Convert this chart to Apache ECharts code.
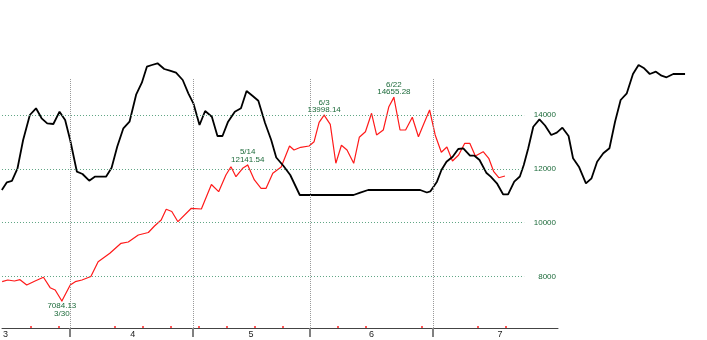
<!DOCTYPE html>
<html><head><meta charset="utf-8">
<script src="https://cdn.jsdelivr.net/npm/echarts@6/dist/echarts.min.js"></script>
<style>html,body{margin:0;padding:0;background:#fff}#c{width:707px;height:340px}</style>
</head><body><div id="c"></div>
<script>
// x unit: weekday index (Apr 1 = 0)
const monthLabels = ['3', '4', '5', '6', '7'];
const monthLabelPos = [-12.1, 10.7, 31.9, 53.5, 76.5];
const monthBoundaries = [-0.5, 21.5, 42.5, 64.5];
const mondayTicks = [-7.5, -2.5, 7.5, 12.5, 17.5, 22.5, 27.5, 32.5, 37.5, 47.5, 52.5, 62.5, 72.5, 77.5];
const yTickValues = [8000, 10000, 12000, 14000];

const redX = [-12.7, -11.7, -10.5, -9.5, -8.3, -6.8, -5.3, -4.1, -3.2, -2.0, -0.5, 0.4, 1.6, 3.2, 4.5, 6.6, 8.6, 9.9, 11.7, 13.5, 14.6, 15.8, 16.7, 17.7, 18.8, 21.2, 23.0, 24.8, 26.1, 27.4, 28.3, 29.2, 30.4, 31.3, 32.5, 33.7, 34.6, 35.8, 37.3, 38.8, 39.6, 40.8, 42.3, 43.2, 44.1, 45.0, 46.1, 47.1, 48.1, 49.1, 50.3, 51.3, 52.4, 53.5, 54.4, 55.6, 56.6, 57.5, 58.6, 59.6, 60.8, 61.9, 62.9, 63.9, 64.9, 66.0, 67.0, 68.0, 69.1, 70.2, 71.1, 72.1, 73.5, 74.5, 75.4, 76.3, 77.4];
const redY = [7804, 7867, 7830, 7878, 7681, 7830, 7967, 7581, 7495, 7084.13, 7681, 7804, 7867, 7997, 8547, 8859, 9231, 9279, 9540, 9633, 9874, 10097, 10495, 10413, 10034, 10532, 10506, 11417, 11149, 11770, 12078, 11707, 12019, 12141.54, 11584, 11275, 11275, 11833, 12067, 12848, 12699, 12799, 12848, 13008, 13729, 13998.14, 13654, 12205, 12874, 12699, 12205, 13171, 13379, 14063, 13257, 13442, 14309, 14655.28, 13442, 13442, 13915, 13193, 13691, 14186, 13257, 12614, 12811, 12290, 12513, 12948, 12948, 12476, 12636, 12391, 11892, 11669, 11733];

const blackX = [-12.4, -11.5, -10.6, -9.6, -8.6, -7.4, -6.3, -5.3, -4.3, -3.2, -2.1, -1.1, -0.2, 1.0, 2.0, 3.2, 4.2, 6.2, 7.2, 8.2, 9.3, 10.4, 11.6, 12.6, 13.5, 14.4, 15.4, 16.6, 17.6, 18.7, 19.9, 20.9, 21.8, 22.9, 23.9, 25.1, 26.1, 27.0, 28.0, 29.2, 30.3, 31.3, 32.4, 33.4, 34.6, 35.7, 36.6, 37.9, 39.1, 40.8, 50.4, 51.6, 53.0, 62.3, 63.5, 64.1, 65.3, 66.1, 67.0, 68.1, 69.1, 70.0, 71.2, 72.0, 72.9, 74.1, 74.9, 76.0, 77.1, 78.0, 79.1, 80.1, 80.8, 81.6, 82.5, 83.6, 84.6, 85.7, 86.7, 87.7, 88.8, 89.6, 90.7, 91.9, 92.9, 93.9, 95.0, 96.1, 97.1, 98.1, 99.2, 100.3, 101.3, 102.3, 103.3, 104.4, 105.4, 106.3, 107.5, 109.6];
const blackY = [11212, 11498, 11547, 12019, 13071, 14000, 14249, 13877, 13691, 13665, 14123, 13814, 13071, 11892, 11807, 11558, 11707, 11707, 12041, 12822, 13506, 13751, 14769, 15201, 15795, 15859, 15922, 15710, 15647, 15572, 15301, 14807, 14435, 13628, 14149, 13937, 13219, 13219, 13751, 14123, 14249, 14892, 14706, 14532, 13703, 13071, 12420, 12104, 11770, 11026, 11026, 11112, 11212, 11212, 11119, 11157, 11521, 11956, 12264, 12450, 12736, 12762, 12487, 12487, 12327, 11855, 11707, 11461, 11052, 11052, 11521, 11714, 12142, 12762, 13565, 13840, 13610, 13257, 13342, 13528, 13219, 12391, 12056, 11461, 11647, 12264, 12576, 12762, 13751, 14558, 14807, 15524, 15859, 15736, 15524, 15609, 15461, 15401, 15524, 15524];

const annotDates = ['3/30', '5/14', '6/3', '6/22'];
const annotX = [-2.0, 31.3, 45.0, 57.5];
const annotValues = [7084.13, 12141.54, 13998.14, 14655.28];
const annotBelow = [true, false, false, false];

const X_MIN = -12.73, X_MAX0 = 86.91, X_MAX1 = 113.52;
const Y_MIN = 6082, Y_MAX = 18275;
const H_END = 80.84, V_TOP = 15338;
const GREEN = '#1c6a3a';

const redData = redX.map((x, i) => [x, redY[i]]);
const blackData = blackX.map((x, i) => [x, blackY[i]]);
const annotData = annotX.map((x, k) => ({
  value: [x, annotValues[k]],
  label: {
    show: true,
    position: annotBelow[k] ? 'bottom' : 'top',
    distance: 1,
    formatter: annotBelow[k]
      ? annotValues[k].toFixed(2) + '\n' + annotDates[k]
      : annotDates[k] + '\n' + annotValues[k].toFixed(2)
  }
}));

const hLines = yTickValues.map(v => [{ coord: [X_MIN, v], lineStyle: { color: '#5fa584', type: [1, 2], width: 1 } }, { coord: [H_END, v] }]);
const vLines = monthBoundaries.map(b => [{ coord: [b, V_TOP], lineStyle: { color: '#9a9a9a', type: [1, 1], width: 1 } }, { coord: [b, Y_MIN] }]);

function nearestLabel(v) {
  let best = 0;
  for (let i = 1; i < monthLabelPos.length; i++) if (Math.abs(monthLabelPos[i] - v) < Math.abs(monthLabelPos[best] - v)) best = i;
  return monthLabels[best];
}

const chart = echarts.init(document.getElementById('c'), null, { renderer: 'canvas' });
chart.setOption({
  animation: false,
  backgroundColor: '#ffffff',
  grid: [
    { left: 0, top: 0, width: 558, height: 328, containLabel: false },
    { left: 0, top: 0, width: 707, height: 328, containLabel: false }
  ],
  xAxis: [
    {
      type: 'value', gridIndex: 0, min: X_MIN, max: X_MAX0, position: 'bottom',
      axisLine: { show: true, lineStyle: { color: '#444', width: 1 } },
      axisTick: { show: true, customValues: monthBoundaries, length: 9, inside: false, lineStyle: { color: '#808080', width: 2 } },
      axisLabel: { show: true, customValues: monthLabelPos, formatter: v => nearestLabel(v), color: '#222', fontSize: 9, margin: 2, fontFamily: 'Liberation Sans', showMinLabel: true, showMaxLabel: true, hideOverlap: false },
      splitLine: { show: false }
    },
    {
      type: 'value', gridIndex: 1, min: X_MIN, max: X_MAX1, show: false
    },
    {
      type: 'value', gridIndex: 0, min: X_MIN, max: X_MAX0, position: 'bottom',
      axisLine: { show: false },
      axisTick: { show: true, customValues: mondayTicks, length: 2, inside: true, lineStyle: { color: '#ff2020', width: 1.5 } },
      axisLabel: { show: false },
      splitLine: { show: false }
    }
  ],
  yAxis: [
    {
      type: 'value', gridIndex: 0, min: Y_MIN, max: Y_MAX, position: 'right',
      axisLine: { show: false }, axisTick: { show: false },
      axisLabel: { show: true, inside: true, customValues: yTickValues, formatter: v => String(v), color: GREEN, fontSize: 8, margin: 2, fontFamily: 'Liberation Sans' },
      splitLine: { show: false }
    },
    {
      type: 'value', gridIndex: 1, min: Y_MIN, max: Y_MAX, show: false
    }
  ],
  series: [
    {
      type: 'line', xAxisIndex: 0, yAxisIndex: 0, data: [], z: 1, silent: true,
      markLine: { silent: true, symbol: ['none', 'none'], label: { show: false }, animation: false, data: hLines.concat(vLines) }
    },
    {
      type: 'line', xAxisIndex: 0, yAxisIndex: 0, data: redData, z: 3,
      showSymbol: false, symbol: 'none', clip: true,
      lineStyle: { color: '#ff1a1a', width: 1.2 }
    },
    {
      type: 'scatter', xAxisIndex: 0, yAxisIndex: 0, data: annotData, z: 5,
      symbol: 'circle', symbolSize: 1, itemStyle: { color: '#ff1a1a', opacity: 1 },
      label: { show: true, color: GREEN, opacity: 1, fontSize: 8, lineHeight: 7.5, fontFamily: 'Liberation Sans', align: 'center' },
      labelLayout: { hideOverlap: false }
    },
    {
      type: 'line', xAxisIndex: 1, yAxisIndex: 1, data: blackData, z: 4,
      showSymbol: false, symbol: 'none',
      lineStyle: { color: '#000000', width: 1.8 }
    }
  ]
});
</script>
</body></html>
